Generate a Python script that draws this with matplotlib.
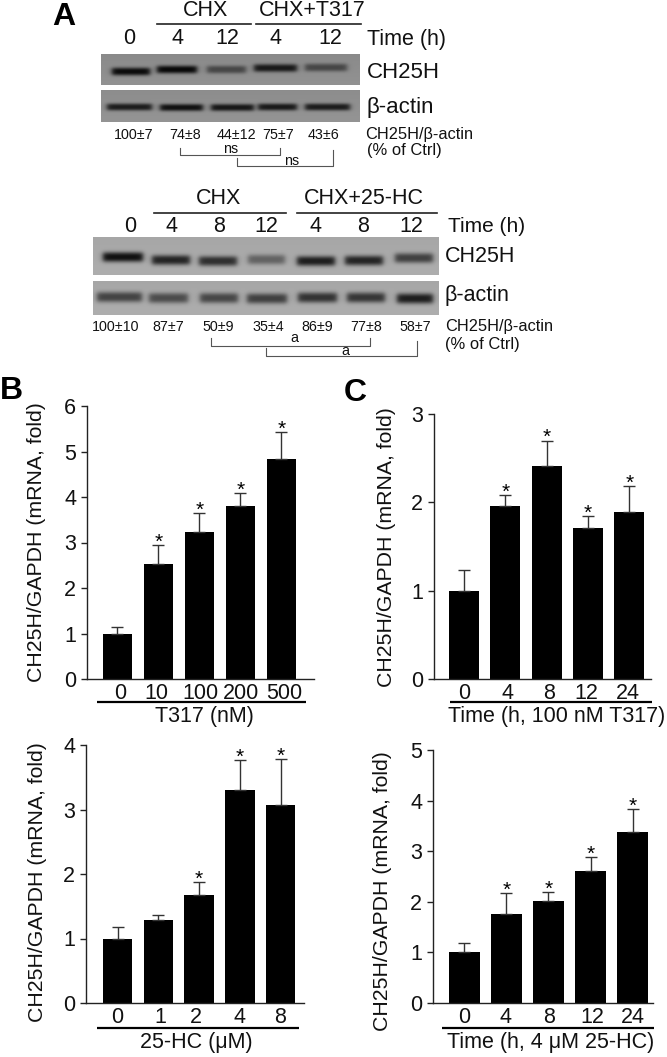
import numpy as np
import matplotlib
matplotlib.use('Agg')
import matplotlib.pyplot as plt

plt.rcParams['font.family'] = ['Liberation Sans', 'DejaVu Sans']

W, H = 667, 1057

# bar panels, values
b1_labels = ['0', '10', '100', '200', '500']
b1_vals = [1.0, 2.53, 3.22, 3.80, 4.84]
b1_tops = [1.14, 2.95, 3.64, 4.08, 5.43]
b1_star = [0, 1, 1, 1, 1]

b2_labels = ['0', '1', '2', '4', '8']
b2_vals = [1.0, 1.28, 1.68, 3.30, 3.07]
b2_tops = [1.18, 1.36, 1.87, 3.77, 3.78]
b2_star = [0, 0, 1, 1, 1]

c1_labels = ['0', '4', '8', '12', '24']
c1_vals = [1.0, 1.96, 2.41, 1.71, 1.89]
c1_tops = [1.23, 2.08, 2.70, 1.85, 2.18]
c1_star = [0, 1, 1, 1, 1]

c2_labels = ['0', '4', '8', '12', '24']
c2_vals = [1.0, 1.75, 2.02, 2.60, 3.38]
c2_tops = [1.18, 2.17, 2.20, 2.88, 3.83]
c2_star = [0, 1, 1, 1, 1]

# blots: lane start, lane end, band y, darkness
a1_bands = [(112, 150, 71.5, .92), (157, 197, 69.5, .94), (207, 246, 69.5, .50), (254, 297, 68, .82), (305, 347, 67.5, .50)]
a2_bands = [(107, 152, 107, .80), (160, 203, 107.5, .88), (211, 254, 107.5, .84), (258, 297, 107, .82), (305, 350, 107, .80)]
a3_bands = [(103, 143, 257, .90), (152, 190, 260, .78), (199, 237, 261, .72), (248, 285, 259.5, .42), (297, 335, 261, .82), (345, 383, 260.5, .78), (395, 433, 258, .62)]
a4_bands = [(97, 142, 297, .60), (149, 188, 298, .55), (200, 238, 298, .58), (247, 287, 298.5, .62), (298, 337, 297.5, .70), (347, 385, 297.5, .68), (397, 433, 298.5, .82)]


def pos(px, py, pw, ph):
    return [px / W, 1 - (py + ph) / H, pw / W, ph / H]


def blot(ax, x0, x1, y0, y1, bands, bg, th):
    xx, yy = np.meshgrid(np.arange(x0, x1) + .5, np.arange(y0, y1) + .5)
    img = np.full(xx.shape, bg, dtype=float)
    img = img + .03 * (yy - y0) / (y1 - y0)
    for s, e, yc, d in bands:
        across = np.exp(-(np.abs(yy - yc) / th) ** 2.6)
        along = .5 * (np.tanh((xx - s) / 3) - np.tanh((xx - e) / 3))
        img = img * (1 - d * across * along)
    ax.imshow(img, cmap='gray', vmin=0, vmax=1, extent=(x0, x1, y1, y0), aspect='auto', interpolation='bilinear')


def barpanel(vals, tops, stars, labels, lab_px, ymax, ax_x, ax_r, y0, ytop, c0, step, wid, xlabel, ul, ylab_x, ylab_y):
    ax = fig.add_axes(pos(ax_x, ytop, ax_r - ax_x, y0 - ytop))
    ax.patch.set_alpha(0)
    xs = np.arange(len(vals))
    ax.bar(xs, vals, wid / step, color='black')
    errs = np.array(tops) - np.array(vals)
    ax.errorbar(xs, vals, yerr=[np.zeros(len(vals)), errs], fmt='none', ecolor='#333333', elinewidth=1, capsize=4.3, capthick=1)
    for x, t, s in zip(xs, tops, stars):
        if s:
            ax.annotate('*', (x, t), xytext=(0, -2), textcoords='offset points', ha='center', va='baseline', fontsize=15)
    ax.set_xlim((ax_x - c0) / step, (ax_r - c0) / step)
    ax.set_ylim(0, ymax)
    ax.set_yticks(range(0, ymax + 1))
    ax.set_xticks([(p - c0) / step for p in lab_px])
    ax.set_xticklabels(labels)
    ax.tick_params(axis='y', length=4.3, width=1, pad=3.5, labelsize=15.5, color='#222222', labelcolor='#111111')
    ax.tick_params(axis='x', length=0, pad=3, labelsize=15.5, labelcolor='#111111')
    for k in ['top', 'right']:
        ax.spines[k].set_visible(False)
    for k in ['left', 'bottom']:
        ax.spines[k].set_linewidth(1)
        ax.spines[k].set_color('#222222')
    top.plot(ul[:2], [ul[2], ul[2]], color='black', lw=1.6, solid_capstyle='butt')
    top.text(ul[3], ul[2] + 14.5, xlabel, ha='center', va='center', fontsize=15.5, color='#111111')
    top.text(ylab_x, ylab_y, 'CH25H/GAPDH (mRNA, fold)', rotation=90, ha='center', va='center', fontsize=15.3, color='#111111')
    return ax


fig = plt.figure(figsize=(W / 100, H / 100), dpi=100, facecolor='white')

# whole figure in pixel coords for the gel part and the loose labels
top = fig.add_axes([0, 0, 1, 1])
blot(top, 101, 360, 54, 85, a1_bands, .54, 4.0)
blot(top, 101, 360, 90, 122, a2_bands, .55, 3.6)
blot(top, 93, 439, 237, 275, a3_bands, .65, 5.0)
blot(top, 93, 439, 281, 315, a4_bands, .65, 5.2)
top.set_xlim(0, W)
top.set_ylim(H, 0)
top.axis('off')


def t(x, y, s, size=15.5, ha='center'):
    top.text(x, y, s, fontsize=size, ha=ha, va='center', color='#111111')


def bracket(x0, x1, yl, yb, yr):
    top.plot([x0, x0, x1, x1], [yl, yb, yb, yr], color='#555555', lw=.8)


top.text(64, 17, 'A', fontsize=23, fontweight='bold', ha='center', va='center', color='black')
top.text(11, 391, 'B', fontsize=23, fontweight='bold', ha='center', va='center', color='black')
top.text(355, 393, 'C', fontsize=23, fontweight='bold', ha='center', va='center', color='black')

# upper blot labels
t(206, 11, 'CHX')
t(312, 11, 'CHX+T317')
top.plot([157, 251], [24, 24], color='#222222', lw=1.2)
top.plot([256, 361], [24, 24], color='#222222', lw=1.2)
for x, s in zip([129, 177, 227, 275, 330], ['0', '4', '12', '4', '12']):
    t(x, 39, s)
t(367, 39, 'Time (h)', ha='left')
t(367, 72, 'CH25H', 16, ha='left')
t(366, 108, 'β-actin', 16, ha='left')
for x, s in zip([134, 185, 236, 278, 324], ['100±7', '74±8', '44±12', '75±7', '43±6']):
    t(x, 135, s, 10.3)
t(365, 135, 'CH25H/β-actin', 11.8, ha='left')
t(367, 151, '(% of Ctrl)', 11.9, ha='left')
bracket(180, 280, 148, 155, 148)
bracket(237, 333, 158, 166, 150)
t(231, 149, 'ns', 10.3)
t(292, 161, 'ns', 10.3)

# lower blot labels
t(219, 199, 'CHX')
t(364, 199, 'CHX+25-HC')
top.plot([154, 286], [213, 213], color='#222222', lw=1.2)
top.plot([297, 437], [213, 213], color='#222222', lw=1.2)
for x, s in zip([130, 172, 219, 266, 315, 363, 411], ['0', '4', '8', '12', '4', '8', '12']):
    t(x, 226, s)
t(448, 226, 'Time (h)', 15, ha='left')
t(445, 257, 'CH25H', 15.5, ha='left')
t(445, 295, 'β-actin', 15.5, ha='left')
for x, s in zip([116, 168, 218, 268, 317, 366, 415], ['100±10', '87±7', '50±9', '35±4', '86±9', '77±8', '58±7']):
    t(x, 327, s, 10.3)
t(445, 327, 'CH25H/β-actin', 11.8, ha='left')
t(445, 344, '(% of Ctrl)', 11.9, ha='left')
bracket(211, 370, 338, 346, 338)
bracket(266, 417, 348, 356, 341)
t(294, 338, 'a', 10.3)
t(345, 351, 'a', 10.3)

barpanel(b1_vals, b1_tops, b1_star, b1_labels, [120, 156, 200, 241, 284], 6, 87, 314, 679, 406,
         117.3, 41, 29.5, 'T317 (nM)', (97, 306, 702, 204), 37, 542)
barpanel(b2_vals, b2_tops, b2_star, b2_labels, [117, 160, 196, 239, 280], 4, 86, 304, 1003, 745,
         117.5, 40.8, 29.5, '25-HC (μM)', (97, 299, 1028, 196), 38, 882)
barpanel(c1_vals, c1_tops, c1_star, c1_labels, [464, 507, 549, 586, 628], 3, 434, 651, 679, 414,
         464, 41.3, 30, 'Time (h, 100 nM T317)', (450, 652, 702, 557), 387, 547)
barpanel(c2_vals, c2_tops, c2_star, c2_labels, [464, 506, 549, 592, 633], 5, 433, 653, 1003, 750,
         464, 42.2, 31, 'Time (h, 4 μM 25-HC)', (442, 654, 1028, 551), 383, 891)

fig.savefig('out.png', dpi=100)
